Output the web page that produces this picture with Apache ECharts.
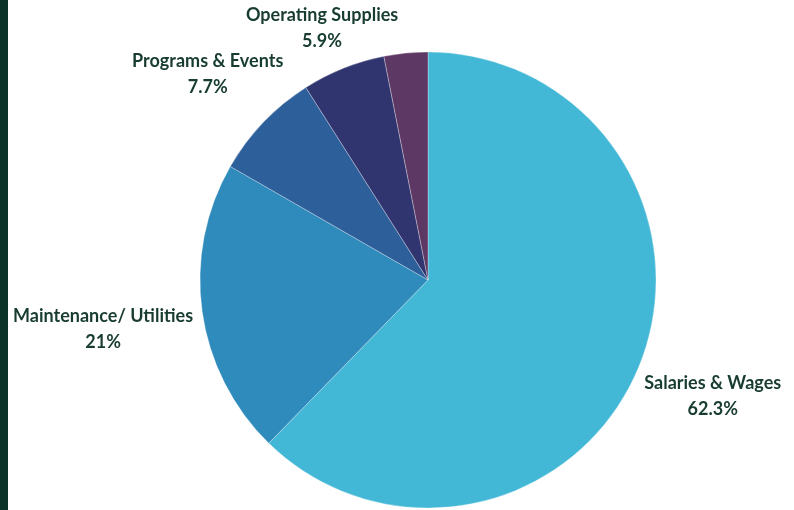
<!DOCTYPE html>
<html>
<head>
<meta charset="utf-8">
<script src="https://cdn.jsdelivr.net/npm/echarts@6/dist/echarts.min.js"></script>
<style>
  html, body { margin: 0; padding: 0; background: #fff; }
  #wrap { position: relative; width: 794px; height: 510px; }
  #bar { position: absolute; left: 0; top: 0; width: 8px; height: 510px; background: #0b3328; }
  #chart { position: absolute; left: 0; top: 0; width: 794px; height: 510px; }
</style>
</head>
<body>
<div id="wrap">
  <div id="chart"></div>
  <div id="bar"></div>
</div>
<script>
// budget split, percent
const categories = ["Salaries & Wages", "Maintenance/ Utilities", "Programs & Events", "Operating Supplies", "Other"];
const values = [62.3, 21, 7.7, 5.9, 3.1];
const colors = ["#42b7d6", "#2e8bbc", "#2d5f9b", "#31356f", "#5d3865"];
const showLabel = [true, true, true, true, false];

// label placement tweaks (distance out from the rim, vertical nudge)
const labelOffsets = [74, 95, 70, 44, 0];
const labelNudgeY = [2, 5, 0, 1, 0];

const chart = echarts.init(document.getElementById("chart"));

chart.setOption({
  animation: false,
  series: [
    {
      type: "pie",
      center: [428, 280],
      radius: 228,
      startAngle: 90,
      clockwise: true,
      avoidLabelOverlap: false,
      itemStyle: {
        borderColor: "rgba(255,255,255,0.6)",
        borderWidth: 0.5,
      },
      label: {
        position: "outside",
        formatter: (p) => p.name + "\n" + p.value + "%",
        fontFamily: "Lato",
        fontWeight: "bold",
        fontSize: 18,
        lineHeight: 26,
        color: "#183d2f",
        distanceToLabelLine: 5,
      },
      labelLine: { show: false, length2: 0 },
      labelLayout: (p) => ({ align: "center", dy: labelNudgeY[p.dataIndex] }),
      emphasis: { disabled: true },
      data: categories.map((name, i) => ({
        name: name,
        value: values[i],
        itemStyle: { color: colors[i] },
        label: { show: showLabel[i] },
        labelLine: { show: false, length: labelOffsets[i], length2: 0 },
      })),
    },
  ],
});
</script>
</body>
</html>
